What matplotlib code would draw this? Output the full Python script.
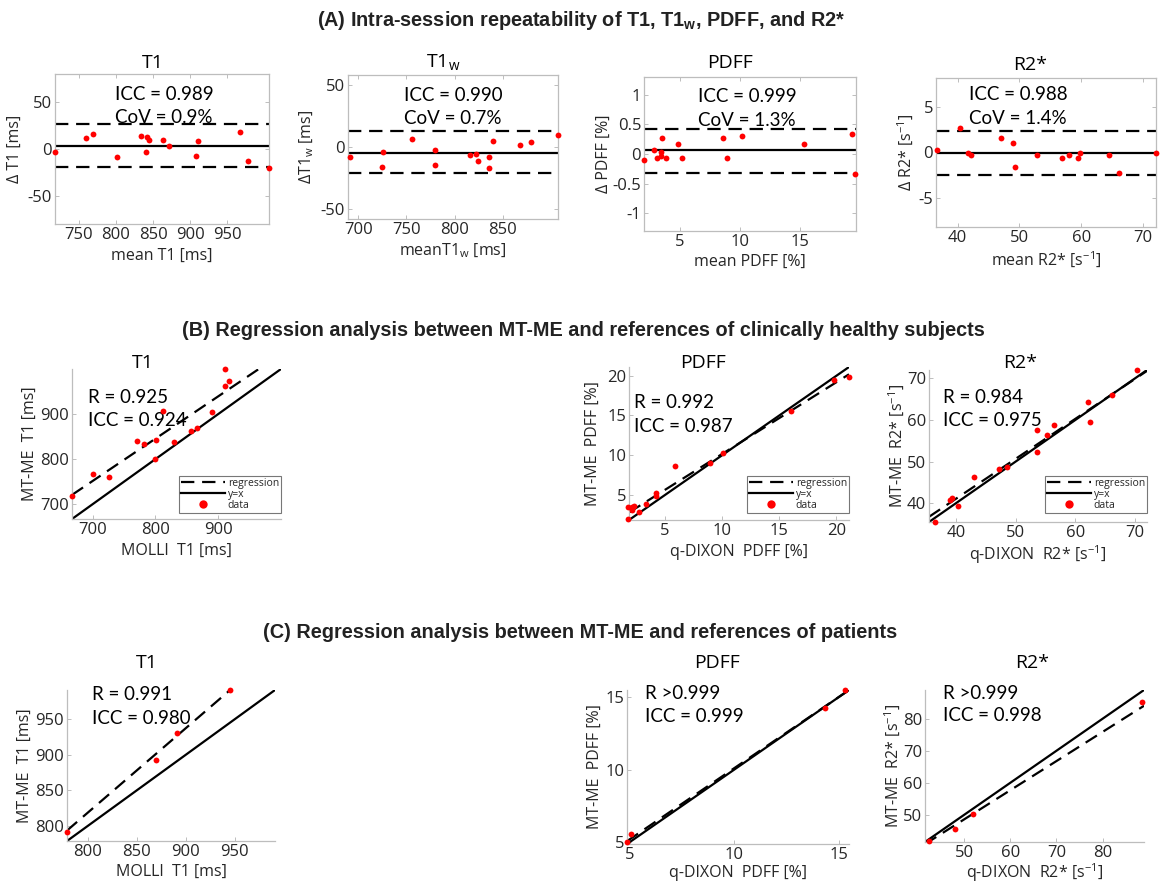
import matplotlib
matplotlib.use("Agg")
import matplotlib.pyplot as plt
from matplotlib.lines import Line2D
import numpy as np

plt.rcParams['axes.unicode_minus'] = False
plt.rcParams['font.family'] = ['Open Sans', 'DejaVu Sans']

# ---------------- DATA ----------------
# (A) Bland-Altman, intra-session repeatability
A_t1_mean = [718.5, 760, 769, 802, 834, 842, 844, 841, 864, 872, 908, 910.5, 967, 978, 1005.6]
A_t1_diff = [-3.6, 11.4, 16.1, -8.9, 13.6, 12.5, 9.6, -3.6, 9.6, 3.6, -7.5, 8.6, 18.6, -12.5, -20.7]
A_t1_lines = [3.6, 26.4, -19.6]          # bias, upper LoA, lower LoA

A_t1w_mean = [692, 726, 724.6, 755.5, 779.7, 779.7, 816, 822, 824, 835.8, 836, 839.6, 867.3, 879.4, 907]
A_t1w_diff = [-8.1, -4.1, -16.2, 6.8, -2.2, -14.1, -6.2, -5.4, -11.4, -8.1, -17.0, 4.9, 1.9, 3.8, 10.0]
A_t1w_lines = [-4.6, 12.7, -21.0]

A_pdff_mean = [2.0, 2.83, 3.06, 3.4, 3.4, 3.5, 3.86, 4.8, 5.2, 8.58, 8.9, 10.17, 15.36, 19.28, 19.6]
A_pdff_diff = [-0.10, 0.067, -0.067, 0.034, -0.04, 0.27, -0.067, 0.17, -0.067, 0.27, -0.067, 0.30, 0.17, 0.336, -0.336]
A_pdff_lines = [0.062, 0.426, -0.314]

A_r2_mean = [36.7, 40.4, 41.7, 42.2, 47.0, 48.9, 49.3, 52.9, 56.9, 58.1, 59.5, 59.8, 64.5, 66.1, 72.1]
A_r2_diff = [0.33, 2.65, 0.0, -0.33, 1.65, 1.0, -1.65, -0.33, -0.63, -0.33, -0.63, 0.0, -0.33, -2.3, 0.0]
A_r2_lines = [-0.11, 2.35, -2.43]

A_text = [("ICC = 0.989", "CoV = 0.9%"), ("ICC = 0.990", "CoV = 0.7%"),
          ("ICC = 0.999", "CoV = 1.3%"), ("ICC = 0.988", "CoV = 1.4%")]

# (B) healthy subjects regression
B_t1_ref = [667.2, 701, 725.4, 770.4, 782, 801.6, 799.5, 812.2, 830, 856.6, 866.7, 890, 911, 911, 917]
B_t1_mtme = [718.3, 768, 759.3, 840, 832.6, 842, 801, 906.6, 838.5, 862, 868.5, 904.4, 999.6, 962.3, 973.3]
B_t1_fit = [0.939, 94.2]                # slope, intercept

B_pdff_ref = [1.8, 1.75, 2.1, 2.25, 2.15, 2.7, 3.35, 4.2, 4.2, 5.9, 8.9, 10.1, 16.0, 19.8, 21.1]
B_pdff_mtme = [2.0, 3.5, 3.5, 3.6, 3.1, 2.85, 3.9, 5.25, 4.9, 8.65, 9.0, 10.3, 15.55, 19.5, 19.85]
B_pdff_fit = [0.903, 1.13]

B_r2_ref = [36.5, 39.0, 39.4, 40.4, 43.0, 47.3, 48.6, 53.6, 53.6, 55.2, 56.5, 62.1, 62.4, 66.1, 70.3]
B_r2_mtme = [35.6, 40.8, 41.2, 39.4, 46.2, 48.2, 48.6, 57.5, 52.2, 56.3, 58.9, 64.2, 59.4, 65.9, 71.9]
B_r2_fit = [0.96, 2.67]

B_text = [("R = 0.925", "ICC = 0.924"), ("R = 0.992", "ICC = 0.987"), ("R = 0.984", "ICC = 0.975")]

# (C) patients regression
C_t1_ref = [779, 869.4, 890.8, 945]
C_t1_mtme = [792, 892.5, 931.3, 990.6]
C_t1_fit = [1.187, -131.0]

C_pdff_ref = [4.87, 5.05, 14.36, 15.32]
C_pdff_mtme = [5.02, 5.53, 14.24, 15.5]
C_pdff_fit = [0.981, 0.29]

C_r2_ref = [42.3, 47.9, 51.9, 88.6]
C_r2_mtme = [41.8, 45.7, 50.1, 85.2]
C_r2_fit = [0.91, 3.08]

C_text = [("R = 0.991", "ICC = 0.980"), ("R >0.999", "ICC = 0.999"), ("R >0.999", "ICC = 0.998")]

# ---------------- STYLE / LAYOUT ----------------
W, H = 1161, 884
fig = plt.figure(figsize=(W / 100, H / 100), dpi=100)

SPINE = '#bdbdbd'
TXT = '#262626'
DASH = (0, (6, 3.5))
TICKFS = 12.0
LABFS = 11.5
ANNFS = 13.5
TITFS = 14
ANNFONT = ['Lato', 'DejaVu Sans']
AX_H = {}


def add_ax(l, r, t, b, box):
    ax = fig.add_axes([l / W, 1 - b / H, (r - l) / W, (b - t) / H])
    AX_H[ax] = (b - t, r - l)
    for s in ax.spines.values():
        s.set_color(SPINE)
        s.set_linewidth(0.9)
    if not box:
        ax.spines['top'].set_visible(False)
        ax.spines['right'].set_visible(False)
    ax.tick_params(direction='in', length=3, width=0.7, color=SPINE,
                   labelsize=TICKFS, labelcolor=TXT, pad=2.0,
                   top=box, right=box)
    return ax


def annotate(ax, lines, x, y1, y2):
    ax.text(x, y1, lines[0], transform=ax.transAxes, ha='left', va='center',
            fontsize=ANNFS, family=ANNFONT, color='black')
    ax.text(x, y2, lines[1], transform=ax.transAxes, ha='left', va='center',
            fontsize=ANNFS, family=ANNFONT, color='black')


def bland(ax, xm, d, lines, xlim, ylim, xt, yt, ytl=None):
    ax.axhline(lines[0], color='black', lw=1.6)
    ax.axhline(lines[1], color='black', lw=1.6, ls=DASH)
    ax.axhline(lines[2], color='black', lw=1.6, ls=DASH)
    ax.plot(xm, d, 'o', color='#ff0000', ms=4.2, mec='none', clip_on=False, zorder=5)
    ax.set_xlim(xlim)
    ax.set_ylim(ylim)
    ax.set_xticks(xt)
    ax.set_yticks(yt)
    if ytl is not None:
        ax.set_yticklabels(ytl)


def regress(ax, ref, mt, fit, lim, ticks, legend, leg_bottom=None):
    xs = np.array(lim)
    ax.plot(xs, fit[0] * xs + fit[1], color='black', lw=1.6, ls=DASH, label='regression')
    ax.plot(xs, xs, color='black', lw=1.6, label='y=x')
    ax.plot(ref, mt, 'o', color='#ff0000', ms=4.2, mec='none', clip_on=False, zorder=5, label='data')
    ax.set_xlim(lim)
    ax.set_ylim(lim)
    ax.set_xticks(ticks)
    ax.set_yticks(ticks)
    if legend:
        h = [Line2D([], [], color='black', lw=1.6, ls=DASH),
             Line2D([], [], color='black', lw=1.6),
             Line2D([], [], color='#ff0000', marker='o', ls='none', ms=6, mec='none')]
        lg = ax.legend(h, ['regression', 'y=x', 'data'], loc='lower right',
                       bbox_to_anchor=(1.0, leg_bottom), fontsize=7.5,
                       frameon=True, fancybox=False, handlelength=4.2,
                       handletextpad=0.3, borderpad=0.2, labelspacing=0.0,
                       borderaxespad=0)
        lg.get_frame().set_edgecolor('#555555')
        lg.get_frame().set_linewidth(0.8)
        for t in lg.get_texts():
            t.set_color(TXT)


def xl(ax, s, below=32):
    ax.set_xlabel(s, fontsize=LABFS, color=TXT)
    hpx, wpx = AX_H[ax]
    ax.xaxis.label.set_va('center')
    ax.xaxis.set_label_coords(0.5, -below / hpx)


def yl(ax, s, left):
    ax.set_ylabel(s, fontsize=LABFS, color=TXT)
    hpx, wpx = AX_H[ax]
    ax.yaxis.label.set_va('center')
    ax.yaxis.set_label_coords(-left / wpx, 0.5)


# ---------------- ROW A ----------------
ax = add_ax(55, 269, 74, 224, True)
bland(ax, A_t1_mean, A_t1_diff, A_t1_lines, (718, 1006), (-80, 80), [750, 800, 850, 900, 950], [-50, 0, 50])
xl(ax, 'mean T1 [ms]', 32); yl(ax, 'Δ T1 [ms]', 40)
annotate(ax, A_text[0], 0.28, 0.86, 0.707)

ax = add_ax(348, 558, 75, 219, True)
bland(ax, A_t1w_mean, A_t1w_diff, A_t1w_lines, (689.5, 907), (-58, 58), [700, 750, 800, 850], [-50, 0, 50])
xl(ax, 'meanT1$_\\mathregular{w}$ [ms]', 32); yl(ax, 'ΔT1$_\\mathregular{w}$ [ms]', 41)
annotate(ax, A_text[1], 0.267, 0.86, 0.70)

ax = add_ax(644, 856, 77, 231, True)
bland(ax, A_pdff_mean, A_pdff_diff, A_pdff_lines, (2.0, 19.65), (-1.3, 1.3), [5, 10, 15],
      [-1, -0.5, 0, 0.5, 1], ['-1', '-0.5', '0', '0.5', '1'])
xl(ax, 'mean PDFF [%]', 31); yl(ax, 'Δ PDFF [%]', 40)
annotate(ax, A_text[2], 0.255, 0.872, 0.72)

ax = add_ax(936, 1156, 78, 227, True)
bland(ax, A_r2_mean, A_r2_diff, A_r2_lines, (36.5, 72.1), (-8.2, 8.2), [40, 50, 60, 70], [-5, 0, 5])
xl(ax, 'mean R2* [s$^{\\mathregular{-1}}$]', 33); yl(ax, 'Δ R2* [s$^{\\mathregular{-1}}$]', 30)
annotate(ax, A_text[3], 0.15, 0.886, 0.73)

# ---------------- ROW B ----------------
ax = add_ax(72, 281, 369, 519, False)
regress(ax, B_t1_ref, B_t1_mtme, B_t1_fit, (667, 1000), [700, 800, 900], True, 0.04)
xl(ax, 'MOLLI  T1 [ms]', 32); yl(ax, 'MT-ME  T1 [ms]', 42)
annotate(ax, B_text[0], 0.077, 0.807, 0.66)

ax = add_ax(629, 849, 367, 520, False)
regress(ax, B_pdff_ref, B_pdff_mtme, B_pdff_fit, (1.85, 21.1), [5, 10, 15, 20], True, 0.045)
xl(ax, 'q-DIXON  PDFF [%]', 32); yl(ax, 'MT-ME  PDFF [%]', 36)
annotate(ax, B_text[1], 0.025, 0.765, 0.61)

ax = add_ax(929, 1147, 370, 522, False)
regress(ax, B_r2_ref, B_r2_mtme, B_r2_fit, (35.5, 72.0), [40, 50, 60, 70], True, 0.06)
xl(ax, 'q-DIXON  R2* [s$^{\\mathregular{-1}}$]', 33); yl(ax, 'MT-ME  R2* [s$^{\\mathregular{-1}}$]', 32)
annotate(ax, B_text[2], 0.064, 0.82, 0.666)

# ---------------- ROW C ----------------
ax = add_ax(67, 275, 690, 841, False)
regress(ax, C_t1_ref, C_t1_mtme, C_t1_fit, (779, 991), [800, 850, 900, 950], False)
xl(ax, 'MOLLI  T1 [ms]', 31); yl(ax, 'MT-ME  T1 [ms]', 42)
annotate(ax, C_text[0], 0.12, 0.967, 0.808)

ax = add_ax(627, 849, 690, 844, False)
regress(ax, C_pdff_ref, C_pdff_mtme, C_pdff_fit, (4.85, 15.5), [5, 10, 15], False)
xl(ax, 'q-DIXON  PDFF [%]', 29); yl(ax, 'MT-ME  PDFF [%]', 32)
annotate(ax, C_text[1], 0.08, 0.978, 0.827)

ax = add_ax(925, 1144, 690, 842, False)
regress(ax, C_r2_ref, C_r2_mtme, C_r2_fit, (41.5, 89.0), [50, 60, 70, 80], False)
xl(ax, 'q-DIXON  R2* [s$^{\\mathregular{-1}}$]', 31); yl(ax, 'MT-ME  R2* [s$^{\\mathregular{-1}}$]', 32)
annotate(ax, C_text[2], 0.084, 0.978, 0.83)

# ---------------- TITLES ----------------
def ftext(x, y, s, **kw):
    fig.text(x / W, 1 - y / H, s, ha='center', va='center', **kw)

panel_titles = [
    (153, 63, 'T1'), (443, 63, 'T1$_\\mathregular{w}$'), (730, 63, 'PDFF'), (1030, 65, 'R2*'),
    (143, 363, 'T1'), (703, 363, 'PDFF'), (1020, 363, 'R2*'),
    (147, 663, 'T1'), (717, 663, 'PDFF'), (1032, 663, 'R2*'),
]
for x, y, s in panel_titles:
    ftext(x, y, s, fontsize=TITFS, color='black')

sec_font = ['Liberation Sans', 'DejaVu Sans']
ftext(581, 20, '(A) Intra-session repeatability of T1, T1$_\\mathregular{w}$, PDFF, and R2*',
      fontsize=14.3, fontweight='bold', family=sec_font, color='#222222')
ftext(583, 331, '(B) Regression analysis between MT-ME and references of clinically healthy subjects',
      fontsize=14.3, fontweight='bold', family=sec_font, color='#222222')
ftext(580, 633, '(C) Regression analysis between MT-ME and references of patients',
      fontsize=14.3, fontweight='bold', family=sec_font, color='#222222')

fig.savefig('out.png', dpi=100, facecolor='white')
